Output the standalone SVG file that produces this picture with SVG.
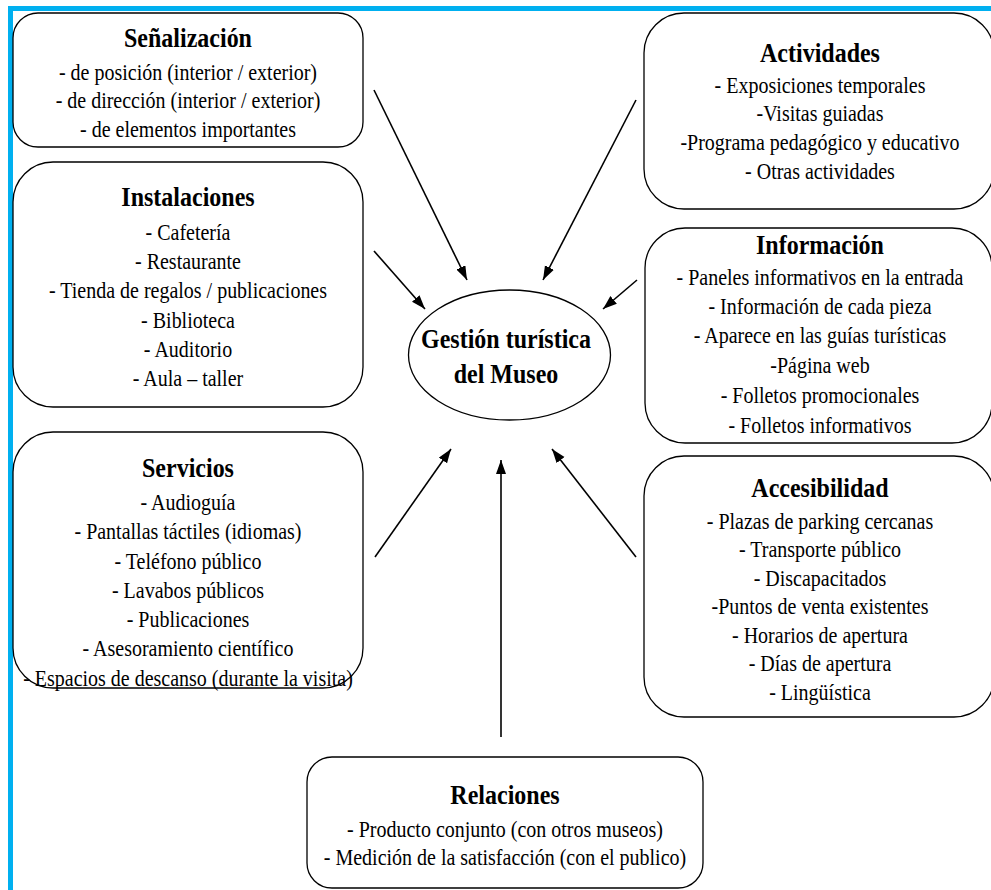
<svg xmlns="http://www.w3.org/2000/svg" width="991" height="890" viewBox="0 0 991 890">
<defs>
<style>
.box{fill:#fff;stroke:#000;stroke-width:1.3}
.t,.h{font-family:"Liberation Serif","Times New Roman",serif;text-anchor:middle;fill:#000;transform-box:fill-box;transform-origin:center;transform:scaleY(1.12)}
.t{font-size:20px}
.h{font-size:24px;font-weight:bold}
.c{stroke:#000;stroke-width:1.6;fill:none;marker-end:url(#ah)}
</style>
<marker id="ah" markerUnits="userSpaceOnUse" markerWidth="16" markerHeight="12" refX="14" refY="5" orient="auto">
<path d="M0,0 L14,5 L0,10 Z" fill="#000"/>
</marker>
</defs>
<rect width="991" height="890" fill="#fff"/>
<rect x="8" y="6" width="983" height="5" fill="#00B0F0"/>
<rect x="8" y="6" width="5" height="884" fill="#00B0F0"/>

<g id="senalizacion">
<rect class="box" x="13" y="13" width="350" height="134" rx="25" ry="25"/>
<text class="h" x="188" y="46">Señalización</text>
<text class="t" x="188" y="79">- de posición (interior / exterior)</text>
<text class="t" x="188" y="107">- de dirección (interior / exterior)</text>
<text class="t" x="188" y="136">- de elementos importantes</text>
</g>

<g id="actividades">
<rect class="box" x="644" y="13" width="350" height="196" rx="40" ry="40"/>
<text class="h" x="820" y="61">Actividades</text>
<text class="t" x="820" y="92">- Exposiciones temporales</text>
<text class="t" x="820" y="120">-Visitas guiadas</text>
<text class="t" x="820" y="149">-Programa pedagógico y educativo</text>
<text class="t" x="820" y="178">- Otras actividades</text>
</g>

<g id="instalaciones">
<rect class="box" x="13" y="162" width="350" height="245" rx="40" ry="40"/>
<text class="h" x="188" y="205">Instalaciones</text>
<text class="t" x="188" y="239">- Cafetería</text>
<text class="t" x="188" y="268">- Restaurante</text>
<text class="t" x="188" y="297">- Tienda de regalos / publicaciones</text>
<text class="t" x="188" y="327">- Biblioteca</text>
<text class="t" x="188" y="356">- Auditorio</text>
<text class="t" x="188" y="385">- Aula – taller</text>
</g>

<g id="informacion">
<rect class="box" x="645" y="228" width="347" height="215" rx="40" ry="40"/>
<text class="h" x="820" y="253">Información</text>
<text class="t" x="820" y="284">- Paneles informativos en la entrada</text>
<text class="t" x="820" y="313">- Información de cada pieza</text>
<text class="t" x="820" y="342">- Aparece en las guías turísticas</text>
<text class="t" x="820" y="372">-Página web</text>
<text class="t" x="820" y="402">- Folletos promocionales</text>
<text class="t" x="820" y="432">- Folletos informativos</text>
</g>

<g id="gestion">
<ellipse class="box" cx="509.5" cy="355" rx="101" ry="65"/>
<text class="h" x="506" y="347">Gestión turística</text>
<text class="h" x="506" y="382">del Museo</text>
</g>

<g id="servicios">
<rect class="box" x="13" y="432" width="350" height="256" rx="40" ry="40"/>
<text class="h" x="188" y="476">Servicios</text>
<text class="t" x="188" y="509">- Audioguía</text>
<text class="t" x="188" y="538">- Pantallas táctiles (idiomas)</text>
<text class="t" x="188" y="568">- Teléfono público</text>
<text class="t" x="188" y="597">- Lavabos públicos</text>
<text class="t" x="188" y="626">- Publicaciones</text>
<text class="t" x="188" y="655">- Asesoramiento científico</text>
<text class="t" x="188" y="685">- Espacios de descanso (durante la visita)</text>
</g>

<g id="accesibilidad">
<rect class="box" x="644" y="456" width="350" height="261" rx="40" ry="40"/>
<text class="h" x="820" y="496">Accesibilidad</text>
<text class="t" x="820" y="528">- Plazas de parking cercanas</text>
<text class="t" x="820" y="556">- Transporte público</text>
<text class="t" x="820" y="585">- Discapacitados</text>
<text class="t" x="820" y="613">-Puntos de venta existentes</text>
<text class="t" x="820" y="642">- Horarios de apertura</text>
<text class="t" x="820" y="670">- Días de apertura</text>
<text class="t" x="820" y="699">- Lingüística</text>
</g>

<g id="relaciones">
<rect class="box" x="307" y="757" width="396" height="131" rx="25" ry="25"/>
<text class="h" x="505" y="803">Relaciones</text>
<text class="t" x="505" y="836">- Producto conjunto (con otros museos)</text>
<text class="t" x="505" y="864">- Medición de la satisfacción (con el publico)</text>
</g>

<g id="connectors">
<line class="c" x1="374" y1="90" x2="467" y2="280"/>
<line class="c" x1="636" y1="100" x2="543" y2="280"/>
<line class="c" x1="374" y1="251" x2="425" y2="309"/>
<line class="c" x1="637" y1="280" x2="603" y2="309"/>
<line class="c" x1="375" y1="557" x2="451" y2="449"/>
<line class="c" x1="636" y1="557" x2="552" y2="449"/>
<line class="c" x1="501" y1="737" x2="501" y2="460"/>
</g>
</svg>
